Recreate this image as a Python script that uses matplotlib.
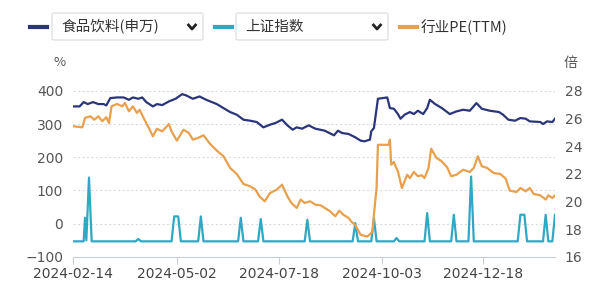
import matplotlib
matplotlib.use('Agg')
import matplotlib.pyplot as plt
import matplotlib.dates as mdates
from matplotlib.patches import FancyBboxPatch
from matplotlib.lines import Line2D
import pandas as pd

plt.rcParams['font.family'] = ['Noto Sans CJK SC', 'DejaVu Sans']

START = pd.Timestamp('2024-02-14')
END = pd.Timestamp('2025-02-10')

# x positions are days after 2024-02-14
# 食品饮料(申万) - left axis
food_day = [0, 5, 8, 11, 15, 19, 23, 25, 28, 33, 38, 42, 45, 49, 52, 55, 60, 63, 67, 72,
            77, 82, 85, 90, 95, 100, 108, 113, 118, 123, 128, 133, 138, 143, 148, 152, 157,
            161, 165, 168, 172, 177, 182, 189, 196, 199, 202, 207, 212, 216, 219, 223, 224,
            226, 229, 236, 238, 241, 244, 246, 249, 253, 256, 259, 263, 266, 268, 272, 277,
            283, 288, 293, 298, 303, 307, 313, 320, 323, 327, 332, 336, 340, 343, 351, 353,
            356, 360, 362]
food_vals = [353, 353, 366, 360, 366, 360, 360, 356, 378, 380, 380, 373, 380, 376, 380, 366,
             353, 360, 357, 368, 376, 390, 386, 376, 383, 373, 360, 348, 336, 328, 313, 310,
             306, 290, 298, 303, 313, 296, 283, 290, 286, 296, 286, 280, 266, 280, 273, 270,
             260, 250, 248, 253, 278, 288, 376, 380, 348, 346, 330, 316, 328, 336, 330, 340,
             330, 348, 373, 360, 348, 330, 338, 343, 340, 363, 346, 340, 336, 328, 313, 310,
             318, 316, 308, 306, 300, 308, 306, 316]

# 上证指数 - left axis
sh_day = [0, 8, 9, 10, 12, 14, 47, 49, 51, 74, 76, 79, 81, 94, 96, 98, 124, 126, 128,
          139, 141, 143, 174, 176, 178, 210, 212, 214, 224, 226, 228, 241, 243, 245,
          264, 266, 268, 284, 286, 288, 297, 299, 301, 334, 336, 339, 341, 353, 355,
          357, 360, 362]
sh_vals = [-53, -53, 18, -50, 139, -53, -53, -46, -53, -53, 22, 22, -53, -53, 22, -53,
           -53, 18, -53, -53, 14, -53, -53, 12, -53, -53, 2, -53, -53, 17, -53, -53, -43,
           -53, -53, 32, -53, -53, 27, -53, -53, 142, -53, -53, 27, 27, -53, -53, 27, -53,
           -53, 27]

# 行业PE(TTM) - right axis
pe_day = [0, 7, 9, 13, 16, 19, 22, 25, 27, 29, 33, 37, 39, 42, 45, 48, 50, 53, 57, 60,
          63, 67, 72, 74, 78, 83, 87, 90, 94, 98, 103, 108, 113, 118, 123, 128, 133, 137,
          140, 144, 148, 153, 157, 161, 164, 168, 171, 174, 178, 182, 186, 193, 197, 200,
          203, 207, 209, 212, 216, 221, 225, 226, 228, 229, 237, 238, 239, 241, 243, 244,
          247, 251, 253, 256, 259, 262, 264, 267, 269, 273, 277, 281, 284, 288, 293, 298,
          301, 304, 307, 311, 316, 321, 325, 328, 333, 336, 340, 343, 346, 351, 355, 357,
          360, 362]
pe_vals = [25.44, 25.36, 26.04, 26.16, 25.91, 26.16, 25.8, 26.09, 25.67, 26.88, 27.05,
           26.88, 27.12, 26.52, 26.88, 26.4, 26.63, 26.04, 25.31, 24.71, 25.26, 25.07, 25.6,
           25.07, 24.4, 25.19, 24.95, 24.47, 24.6, 24.79, 24.16, 23.68, 23.27, 22.43, 21.99,
           21.27, 21.1, 20.86, 20.38, 20.02, 20.62, 20.86, 21.22, 20.38, 19.9, 19.54, 20.14,
           19.9, 20.02, 19.78, 19.73, 19.3, 18.94, 19.34, 19.05, 18.82, 18.55, 18.3, 17.6,
           17.47, 17.83, 19.05, 20.98, 24.1, 24.1, 24.47, 22.66, 22.86, 22.38, 22.19, 20.98,
           21.94, 21.7, 22.14, 21.83, 21.9, 21.7, 22.43, 23.82, 23.15, 22.9, 22.47, 21.83,
           21.94, 22.3, 22.14, 22.43, 23.27, 22.55, 22.43, 22.06, 21.99, 21.65, 20.79, 20.69,
           20.98, 20.74, 20.98, 20.55, 20.45, 20.14, 20.45, 20.26, 20.45]

left_ticks = [-100, 0, 100, 200, 300, 400]
right_ticks = [16, 18, 20, 22, 24, 26, 28]
x_ticks = ['2024-02-14', '2024-05-02', '2024-07-18', '2024-10-03', '2024-12-18']

NAVY = '#2b3579'
CYAN = '#2fa8c4'
ORANGE = '#e9a04c'


def to_dates(days):
    return START + pd.to_timedelta(days, unit='D')


fig = plt.figure(figsize=(6, 2.91), dpi=100)
fig.patch.set_facecolor('white')
ax = fig.add_axes([0.1217, 0.117, 0.8033, 0.571])
ax2 = ax.twinx()

ax.plot(to_dates(food_day), food_vals, color=NAVY, lw=1.6, zorder=3)
ax.plot(to_dates(sh_day), sh_vals, color=CYAN, lw=1.6, zorder=2)
ax2.plot(to_dates(pe_day), pe_vals, color=ORANGE, lw=1.6)

ax.set_xlim(START, END)
ax.set_ylim(-100, 400)
ax2.set_ylim(16, 28)
ax.set_yticks(left_ticks)
ax2.set_yticks(right_ticks)
ax.set_xticks(pd.to_datetime(x_ticks))
ax.xaxis.set_major_formatter(mdates.DateFormatter('%Y-%m-%d'))

for y in left_ticks[1:]:
    ax.axhline(y, color='#d9dde3', lw=0.8, ls=(0, (2, 2)), zorder=0)

for a in (ax, ax2):
    for s in a.spines.values():
        s.set_visible(False)
ax.spines['bottom'].set_visible(True)
ax.spines['bottom'].set_color('#c8ccd4')

ax.tick_params(axis='y', length=0, labelsize=10, labelcolor='#555555', pad=7)
ax2.tick_params(axis='y', length=0, labelsize=10, labelcolor='#555555', pad=7)
ax.tick_params(axis='x', length=5, color='#c8ccd4', labelsize=10, labelcolor='#444444', pad=2)
for lab in ax.get_xticklabels() + ax.get_yticklabels() + ax2.get_yticklabels():
    lab.set_family('DejaVu Sans')

fig.text(60 / 600, 1 - 63 / 291, '%', fontsize=9.5, color='#555555', ha='center', va='center')
fig.text(571 / 600, 1 - 63 / 291, '倍', fontsize=10, color='#555555', ha='center', va='center')

# legend with dropdown boxes
W, H = 600, 291
ly = 1 - 27 / H


def dash(x0, x1, color):
    fig.add_artist(Line2D([x0 / W, x1 / W], [ly, ly], color=color, lw=3, transform=fig.transFigure))


def box(x0, x1, label):
    fig.add_artist(FancyBboxPatch((x0 / W, 1 - 40 / H), (x1 - x0) / W, 27 / H,
                                  boxstyle='round,pad=0,rounding_size=0.004',
                                  transform=fig.transFigure, facecolor='white',
                                  edgecolor='#dcdfe4', lw=0.9))
    fig.text((x0 + 9) / W, ly, label, fontsize=10.5, color='#333333', ha='left', va='center')
    cx = x1 - 11
    fig.add_artist(Line2D([(cx - 3.5) / W, cx / W, (cx + 3.5) / W], [ly + 2 / H, ly - 2 / H, ly + 2 / H],
                          color='#222222', lw=2, transform=fig.transFigure))


dash(30, 47, NAVY)
box(52, 203, '食品饮料(申万)')
dash(215, 232, CYAN)
box(236, 388, '上证指数')
dash(400, 417, ORANGE)
fig.text(421 / W, ly, '行业PE(TTM)', fontsize=10.5, color='#333333', ha='left', va='center')

fig.savefig('out.png', dpi=100)
